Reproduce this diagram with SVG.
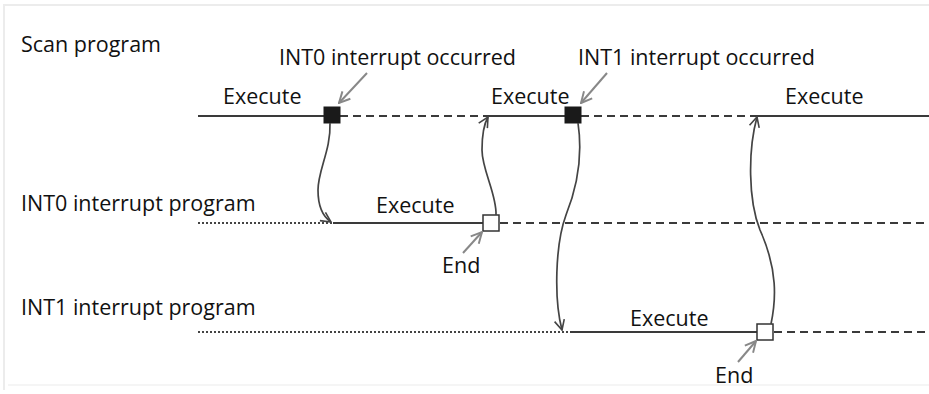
<svg xmlns="http://www.w3.org/2000/svg" width="929" height="394" viewBox="0 0 929 394">
  <defs>
    <marker id="head" viewBox="0 0 12 12" refX="11" refY="6" markerWidth="12" markerHeight="12" markerUnits="userSpaceOnUse" orient="auto">
      <path d="M1,1 L11,6 L1,11" fill="none" stroke="#444" stroke-width="1.6"/>
    </marker>
    <marker id="headGray" viewBox="0 0 12 12" refX="11" refY="6" markerWidth="13" markerHeight="13" markerUnits="userSpaceOnUse" orient="auto">
      <path d="M1,1 L11,6 L1,11" fill="none" stroke="#888" stroke-width="1.8"/>
    </marker>
  </defs>
  <style>
    text { font-family: "Open Sans", "Noto Sans", "DejaVu Sans", sans-serif; font-size: 21.5px; fill: #111; }
    .run { stroke: #3a3a3a; stroke-width: 2.2; fill: none; }
    .wait { stroke: #3a3a3a; stroke-width: 2.2; fill: none; stroke-dasharray: 8 5; }
    .idle { stroke: #444; stroke-width: 2; fill: none; stroke-dasharray: 2 2; }
    .flow { stroke: #444; stroke-width: 1.7; fill: none; marker-end: url(#head); }
    .pointer { stroke: #888; stroke-width: 2; fill: none; marker-end: url(#headGray); }
    .start { fill: #1a1a1a; stroke: #1a1a1a; stroke-width: 1; }
    .finish { fill: #fff; stroke: #333; stroke-width: 1.5; }
  </style>

  <!-- frame -->
  <path d="M4,390 L4,5 L929,5" fill="none" stroke="#ececec" stroke-width="2"/>
  <line x1="8" y1="385" x2="929" y2="385" stroke="#f5f5f5" stroke-width="2"/>

  <!-- row labels -->
  <g id="labels">
    <text x="21" y="52">Scan program</text>
    <text x="21" y="211">INT0 interrupt program</text>
    <text x="21" y="315">INT1 interrupt program</text>
  </g>

  <!-- scan program timeline -->
  <g id="scan">
    <line class="run" x1="198" y1="116" x2="325" y2="116"/>
    <line class="wait" x1="340" y1="116" x2="487" y2="116"/>
    <line class="run" x1="487" y1="116" x2="566" y2="116"/>
    <line class="wait" x1="581" y1="116" x2="756" y2="116"/>
    <line class="run" x1="756" y1="116" x2="929" y2="116"/>
    <text x="223" y="104">Execute</text>
    <text x="491" y="104">Execute</text>
    <text x="785" y="104">Execute</text>
  </g>

  <!-- INT0 interrupt program timeline -->
  <g id="int0">
    <line class="idle" x1="198" y1="223" x2="332" y2="223"/>
    <line class="run" x1="333" y1="223" x2="483" y2="223"/>
    <line class="wait" x1="500" y1="223" x2="929" y2="223"/>
    <text x="376" y="213">Execute</text>
  </g>

  <!-- INT1 interrupt program timeline -->
  <g id="int1">
    <line class="idle" x1="198" y1="332" x2="568" y2="332"/>
    <line class="run" x1="570" y1="332" x2="757" y2="332"/>
    <line class="wait" x1="774" y1="332" x2="929" y2="332"/>
    <text x="630" y="326">Execute</text>
  </g>

  <!-- event markers -->
  <g id="int0-occurred">
    <rect class="start" x="324" y="107" width="16" height="16"/>
    <line class="pointer" x1="367" y1="73" x2="339" y2="103"/>
    <text x="279" y="65">INT0 interrupt occurred</text>
  </g>
  <g id="int1-occurred">
    <rect class="start" x="565" y="107" width="16" height="16"/>
    <line class="pointer" x1="607" y1="73" x2="581" y2="103"/>
    <text x="578" y="65">INT1 interrupt occurred</text>
  </g>
  <g id="int0-end">
    <rect class="finish" x="483" y="215" width="16" height="16"/>
    <line class="pointer" x1="463" y1="253" x2="482" y2="232"/>
    <text x="442" y="273">End</text>
  </g>
  <g id="int1-end">
    <rect class="finish" x="757" y="324" width="16" height="16"/>
    <line class="pointer" x1="738" y1="362" x2="756" y2="341"/>
    <text x="715" y="383">End</text>
  </g>

  <!-- control transfers -->
  <g id="connectors">
    <path class="flow" d="M330,123 C331,150 318,170 318,190 C318,205 322,216 331,222"/>
    <path class="flow" d="M496,215 C497,195 482,170 482,150 C482,132 484,124 488,117"/>
    <path class="flow" d="M578,123 C582,150 580,180 566,215 C555,245 554,300 562,330"/>
    <path class="flow" d="M771,324 C776,300 778,270 760,230 C748,200 748,150 757,117"/>
  </g>
</svg>
